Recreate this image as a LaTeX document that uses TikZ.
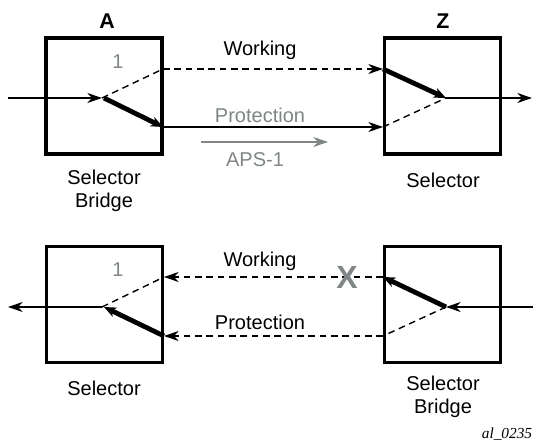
\documentclass[tikz,border=0pt]{standalone}
\usepackage{fontspec}
\setmainfont{Liberation Sans}
\newfontfamily\tagfont{Liberation Serif}
\usetikzlibrary{arrows.meta,positioning}
\definecolor{lightgrey}{RGB}{128,134,134}

\begin{document}
\begin{tikzpicture}[x=0.75pt, y=-0.75pt, line width=1.05pt,
		box/.style={draw, line width=2.5pt, minimum size=87pt, inner sep=0pt},
		sig/.style={-{Stealth[length=11pt,width=7.5pt,inset=3.5pt]}},
		thk/.style={line width=3.6pt, -{Stealth[length=9pt,width=7.5pt,inset=2.5pt]}},
		dsh/.style={dash pattern=on 5pt off 3.5pt},
		lbl/.style={font=\fontsize{15}{17}\selectfont, align=center, inner sep=0pt}]
	\useasboundingbox (0,0) rectangle (533,448);

	% top: A -> Z
	\begin{scope}
	\node[box] (A1) at (104,96) {};
	\node[box] (Z1) at (442.5,96) {};
	\node[lbl, font=\fontsize{16}{18}\selectfont\bfseries] (A1t) at (107,21) {A};
	\node[lbl, font=\fontsize{16}{18}\selectfont\bfseries] (Z1t) at (443,21) {Z};
	\node[lbl, text=lightgrey] (one1) at (118,62) {1};
	\node[lbl] (sb1) at (104,191) {Selector\\Bridge};
	\node[lbl] (s1) at (443,180) {Selector};

	\coordinate (in1) at (8,98);
	\coordinate (pa1) at (102,98);
	\coordinate (au1) at (163,69);
	\coordinate (al1) at (163,127);
	\coordinate (zu1) at (383,69);
	\coordinate (zl1) at (383,127);
	\coordinate (pz1) at (446,98);
	\coordinate (out1) at (532,98);

	\draw[sig] (in1) -- (pa1);
	\draw[dsh] (pa1) -- (au1);
	\draw[thk] ([xshift=1.5pt]pa1) -- (al1);
	\draw[dsh, sig] (au1) -- (zu1);
	\draw[sig] (al1) -- (zl1);
	\draw[thk] (zu1) -- (pz1);
	\draw[dsh] (zl1) -- (pz1);
	\draw[sig] (pz1) -- (out1);

	\node[lbl] (w1) at (260,50) {Working};
	\node[lbl, text=lightgrey] (p1) at (260,115) {Protection};
	\coordinate (aps0) at (201,142);
	\coordinate (aps1) at (328,142);
	\draw[sig, draw=lightgrey, fill=lightgrey] (aps0) -- (aps1);
	\node[lbl, text=lightgrey] (aps) at (255,160) {APS-1};
	\end{scope}

	% bottom: Z -> A
	\begin{scope}
	\node[box] (A2) at (104.5,304.5) {};
	\node[box] (Z2) at (442.5,304.5) {};
	\node[lbl, text=lightgrey] (one2) at (118,270) {1};
	\node[lbl] (s2) at (104,388) {Selector};
	\node[lbl] (sb2) at (443,397) {Selector\\Bridge};

	\coordinate (out2) at (8,307);
	\coordinate (pa2) at (102,307);
	\coordinate (au2) at (164,277);
	\coordinate (al2) at (164,336);
	\coordinate (zu2) at (383,277);
	\coordinate (zl2) at (383,336);
	\coordinate (pz2) at (446,307);
	\coordinate (in2) at (533,307);

	\draw[sig] (pa2) -- (out2);
	\draw[dsh] (pa2) -- (au2);
	\draw[thk] (al2) -- ([xshift=1.5pt]pa2);
	\draw[dsh, sig] (zu2) -- (au2);
	\draw[dsh, sig] (zl2) -- (al2);
	\draw[thk] (pz2) -- (zu2);
	\draw[dsh] (pz2) -- (zl2);
	\draw[sig] (in2) -- (pz2);

	\node[lbl] (w2) at (260,261) {Working};
	\node[lbl] (p2) at (260,322) {Protection};
	\node[lbl, text=lightgrey, font=\fontsize{24}{24}\selectfont\bfseries] (cut) at (347,277) {X};
	\end{scope}

	\node[lbl, font=\fontsize{11.5}{12}\tagfont\itshape] (tag) at (507,434) {al\_0235};
\end{tikzpicture}
\end{document}
